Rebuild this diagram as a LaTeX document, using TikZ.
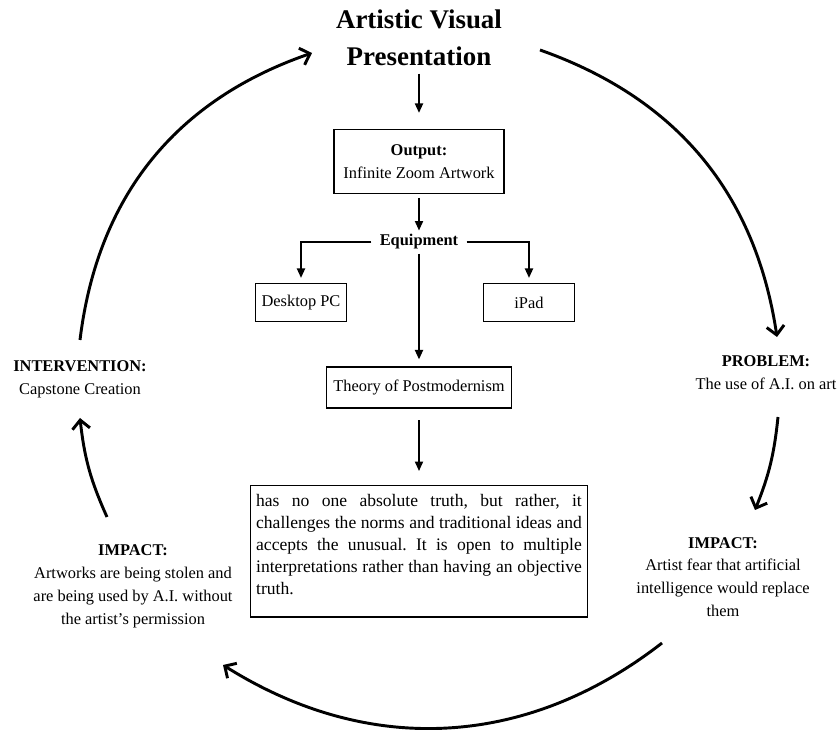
\documentclass[tikz,border=0pt]{standalone}
\usepackage{fontspec}
\setmainfont{Liberation Serif}
\usetikzlibrary{arrows.meta}
\frenchspacing

\newcommand{\lblfont}{\fontsize{14}{19.5}\selectfont}
\tikzset{
  box/.style={draw, line width=1.1pt, align=center, font=\lblfont},
  lbl/.style={align=center, font=\lblfont},
  flow/.style={line width=1.1pt, -{Triangle[length=8pt,width=7pt]}},
  ring/.style={line width=2.5pt, -{Straight Barb[length=7.5pt,width=15pt]}},
}

\begin{document}
\begin{tikzpicture}[x=0.03cm, y=0.03cm]
        \useasboundingbox (0,0) rectangle (839,730);

        % Titolo
        \node[font=\fontsize{23}{31.5}\selectfont\bfseries, align=center] (title) at (419,692) {Artistic Visual\\Presentation};

        % Output
        \node[box, minimum width=145pt, minimum height=55pt] (output) at (419,568.5) {\textbf{Output:}\\Infinite Zoom Artwork};

        % Equipment
        \node[lbl, font=\lblfont\bfseries, inner xsep=7pt] (equip) at (419,488) {Equipment};
        \node[box, minimum width=78pt, minimum height=33pt] (desktop) at (301,427.5) {Desktop PC};
        \node[box, minimum width=78pt, minimum height=33pt] (ipad) at (529,427.5) {iPad};

        % Teoria
        \node[box, minimum width=158pt, minimum height=35pt] (theory) at (419,342.5) {Theory of Postmodernism};

        % Descrizione
        \node[box, anchor=north, text width=278pt, align=justify, font=\fontsize{15}{18.8}\selectfont, inner xsep=5pt, inner ysep=5pt] (desc) at (419,245)
          {\rule{0pt}{13pt}has no one absolute truth, but rather, it\linebreak challenges the norms and traditional ideas and\linebreak accepts the unusual. It is open to multiple\linebreak interpretations rather than having an objective\linebreak truth.\rule[-14pt]{0pt}{14pt}};

        % Etichette del ciclo
        \node[lbl] (interv) at (80,350.5) {\textbf{INTERVENTION:}\\Capstone Creation};
        \node[lbl] (problem) at (766,357) {\textbf{PROBLEM:}\\The use of A.I. on art};
        \node[lbl] (impactR) at (723,153) {\textbf{IMPACT:}\\Artist fear that artificial\\intelligence would replace\\them};
        \node[lbl] (impactL) at (133,143.5) {\textbf{IMPACT:}\\Artworks are being stolen and\\are being used by A.I. without\\the artist's permission};

        % Frecce interne
        \draw[flow, shorten <=3pt, shorten >=13.5pt] (title) -- (output);
        \draw[flow, shorten <=3pt] (output) -- (equip);
        \draw[flow, shorten >=4pt] (equip.west) -| (desktop.north);
        \draw[flow, shorten >=4pt] (equip.east) -| (ipad.north);
        \draw[flow, shorten >=6pt] (equip) -- (theory);
        \draw[flow, shorten <=10pt, shorten >=12pt] (theory) -- (desc);

        % Ciclo esterno
        \coordinate (tlA) at (80,390);   \coordinate (tlB) at (312,677);
        \coordinate (trA) at (540,680);  \coordinate (trB) at (777,393);
        \coordinate (rA) at (778,313);   \coordinate (rB) at (755,220);
        \coordinate (bA) at (662,87);    \coordinate (bB) at (223,65);
        \coordinate (lA) at (107,213);   \coordinate (lB) at (80,312);
        \draw[ring] (tlA) to[bend left=32] (tlB);
        \draw[ring] (trA) to[bend left=31] (trB);
        \draw[ring] (rA) to[bend left=8] (rB);
        \draw[ring] (bA) to[bend left=35] (bB);
        \draw[ring] (lA) to[bend left=9] (lB);

    \end{tikzpicture}
\end{document}
